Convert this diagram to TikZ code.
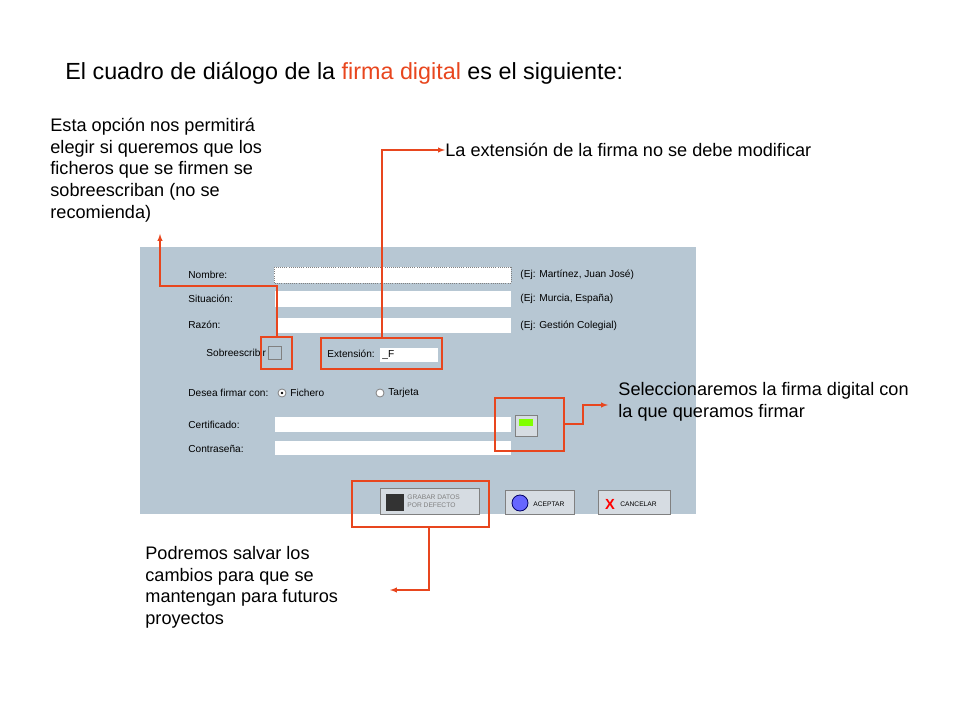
\documentclass[tikz,border=0pt]{standalone}
\usepackage{fontspec}
\setmainfont{Liberation Sans}
\usetikzlibrary{positioning}
\definecolor{panel}{RGB}{183,199,211}
\definecolor{callout}{RGB}{232,70,30}
\definecolor{btn}{RGB}{214,220,226}

\begin{document}
\begin{tikzpicture}[
            x = 0.75pt, y = -0.75pt, % pixel units
            > = latex, % arrow head style
            semithick
        ]

        \tikzset{
            note/.style = {align=left, anchor=north west, inner sep=0pt, font=\fontsize{13.6}{16.2}\selectfont},
            lbl/.style = {anchor=west, inner sep=0pt, font=\fontsize{7.6}{8}\selectfont},
            redbox/.style = {draw=callout, thick},
            lead/.style = {draw=callout, thick, ->}
        }

        \useasboundingbox (0,0) rectangle (960,720);

        % title
        \node[anchor=west, inner sep=0pt, font=\fontsize{17.5}{20}\selectfont] (title) at (65,73)
            {El cuadro de diálogo de la \textcolor{callout}{firma digital} es el siguiente:};

        % dialog
        \fill[panel] (140,247) rectangle (696,514);
        \node[lbl] (nombre) at (188,275) {Nombre:};
        \node[lbl] (situ) at (188,299) {Situación:};
        \node[lbl] (razon) at (188,325) {Razón:};
        \filldraw[fill=white, draw=gray, densely dotted] (274,267) rectangle (511,283);
        \fill[white] (275,291) rectangle (511,307);
        \fill[white] (278,318) rectangle (511,333);
        \node[lbl] (ej1) at (520,275) {(Ej: Martínez, Juan José)};
        \node[lbl] (ej2) at (520,299) {(Ej: Murcia, España)};
        \node[lbl] (ej3) at (520,326) {(Ej: Gestión Colegial)};
        \node[lbl] (sobre) at (206,353) {Sobreescribir};
        \filldraw[fill=panel, draw=gray] (268,346) rectangle (281,359);
        \node[lbl] (ext) at (327,354) {Extensión:};
        \fill[white] (380,348) rectangle (438,362);
        \node[lbl] (extval) at (382,355) {\_F};
        \node[lbl] (desea) at (188,393) {Desea firmar con:};
        \filldraw[fill=white, draw=gray] (282,393) circle (4);
        \fill (282,393) circle (1.3);
        \node[lbl] (fich) at (290,393) {Fichero};
        \filldraw[fill=white, draw=gray] (380,393) circle (4);
        \node[lbl] (tarj) at (388,393) {Tarjeta};
        \node[lbl] (cert) at (188,425) {Certificado:};
        \node[lbl] (pass) at (188,449) {Contraseña:};
        \fill[white] (275,417) rectangle (511,432);
        \fill[white] (275,441) rectangle (511,455);
        \filldraw[fill=btn, draw=gray] (515,415) rectangle (537,436);
        \fill[green!50!yellow] (519,419) rectangle (533,426);
        % buttons
        \filldraw[fill=btn, draw=gray] (380,488) rectangle (479,514);
        \fill[black!80] (386,494) rectangle (404,511);
        \node[lbl, font=\fontsize{5}{6}\selectfont, align=left, gray] (grabar) at (407,501) {GRABAR DATOS\\POR DEFECTO};
        \filldraw[fill=btn, draw=gray] (505,490) rectangle (574,514);
        \filldraw[fill=blue!60, draw=blue!40!black] (520,503) circle (8);
        \node[lbl, font=\fontsize{5}{6}\selectfont] (acept) at (533,504) {ACEPTAR};
        \filldraw[fill=btn, draw=gray] (598,490) rectangle (670,514);
        \node[red, font=\bfseries\fontsize{11}{11}\selectfont, inner sep=0pt] (x) at (610,504) {X};
        \node[lbl, font=\fontsize{5}{6}\selectfont] (canc) at (620,504) {CANCELAR};

        % red marks
        \draw[redbox] (261,337) rectangle (292,369);
        \draw[redbox] (321,338) rectangle (442,369);
        \draw[redbox] (495,398) rectangle (564,451);
        \draw[redbox] (352,481) rectangle (489,527);

        % notes
        \node[note] (n1) at (50,118) {Esta opción nos permitirá\\elegir si queremos que los\\ficheros que se firmen se\\sobreescriban (no se\\recomienda)};
        \node[note, anchor=west] (n2) at (445,150) {La extensión de la firma no se debe modificar};
        \node[note, anchor=west] (n3) at (618,402) {Seleccionaremos la firma digital con\\la que queramos firmar};
        \node[note] (n4) at (145,546) {Podremos salvar los\\cambios para que se\\mantengan para futuros\\proyectos};

        % leaders
        \coordinate (a1) at (277,337);
        \coordinate (a2) at (382,338);
        \coordinate (a3) at (564,424);
        \coordinate (a4) at (429,527);
        \draw[lead] (a1) |- (160,286) -- (160,234);
        \draw[lead] (a2) |- (n2.west);
        \draw[lead] (a3) -- (583,424) |- (608,405);
        \draw[lead] (a4) |- (390,590);
\end{tikzpicture}
\end{document}
